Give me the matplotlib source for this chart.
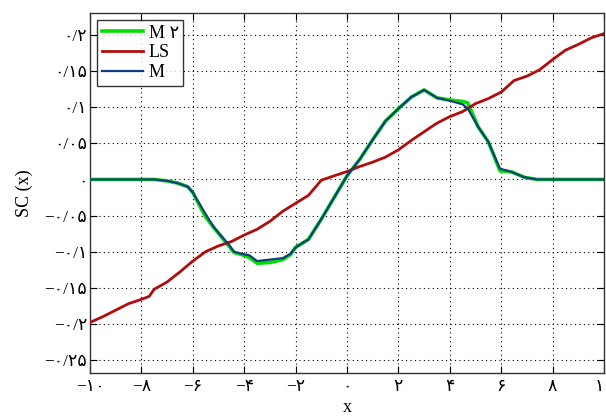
import matplotlib
matplotlib.use("Agg")
import matplotlib.pyplot as plt

# ---------------- data ----------------
x_ls = [-10, -9.5, -9, -8.5, -8, -7.7, -7.5, -7, -6.5, -6, -5.5, -5, -4.5, -4, -3.5, -3,
        -2.5, -2, -1.5, -1, -0.5, 0, 0.5, 1, 1.5, 2, 2.5, 3, 3.5, 4, 4.5, 5, 5.5, 6,
        6.5, 7, 7.5, 8, 8.5, 9, 9.5, 10]
y_ls = [-0.198, -0.19, -0.181, -0.172, -0.166, -0.162, -0.152, -0.142, -0.128, -0.113,
        -0.1, -0.092, -0.086, -0.077, -0.069, -0.058, -0.044, -0.033, -0.022, -0.001,
        0.005, 0.011, 0.018, 0.024, 0.031, 0.041, 0.054, 0.066, 0.078, 0.087, 0.094,
        0.105, 0.112, 0.121, 0.137, 0.143, 0.152, 0.166, 0.179, 0.187, 0.196, 0.202]

x_m = [-10, -8, -7.5, -7, -6.6, -6.2, -6.0, -5.8, -5.5, -5.2, -4.9, -4.6, -4.4, -4.1,
       -3.8, -3.5, -3.0, -2.5, -2.2, -2.0, -1.5, -1.0, -0.5, 0, 0.5, 1.0, 1.5, 2.0,
       2.5, 3.0, 3.5, 4.0, 4.5, 4.7, 5.1, 5.5, 5.95, 6.4, 6.9, 7.4, 8, 10]
y_m = [0, 0, 0, -0.002, -0.005, -0.01, -0.018, -0.03, -0.048, -0.065, -0.078, -0.09,
       -0.1, -0.103, -0.105, -0.113, -0.111, -0.109, -0.103, -0.094, -0.083, -0.055,
       -0.025, 0.005, 0.028, 0.055, 0.081, 0.098, 0.114, 0.124, 0.113, 0.109, 0.104,
       0.098, 0.073, 0.052, 0.015, 0.0105, 0.003, 0, 0, 0]
y_m2 = [0, 0, 0, -0.002, -0.005, -0.01, -0.018, -0.032, -0.052, -0.066, -0.079, -0.092,
        -0.101, -0.104, -0.108, -0.116, -0.115, -0.111, -0.104, -0.094, -0.083, -0.055,
        -0.025, 0.005, 0.028, 0.055, 0.081, 0.098, 0.114, 0.124, 0.113, 0.110, 0.108,
        0.106, 0.073, 0.052, 0.012, 0.0105, 0.003, 0, 0, 0]

x_ticks = [-10, -8, -6, -4, -2, 0, 2, 4, 6, 8, 10]
x_tick_labels = ["−۱۰", "−۸", "−۶", "−۴", "−۲", "۰", "۲", "۴", "۶", "۸", "۱۰"]
y_ticks = [-0.25, -0.2, -0.15, -0.1, -0.05, 0, 0.05, 0.1, 0.15, 0.2]
y_tick_labels = ["−۰/۲۵", "−۰/۲", "−۰/۱۵", "−۰/۱", "−۰/۰۵", "۰",
                 "۰/۰۵", "۰/۱", "۰/۱۵", "۰/۲"]
series_labels = ["M ۲", "LS", "M"]

# ---------------- plot ----------------
plt.rcParams['font.family'] = ['Liberation Serif', 'DejaVu Sans']
fam = ['Liberation Serif', 'DejaVu Sans']

fig = plt.figure(figsize=(6.06, 4.16), dpi=100)
ax = fig.add_axes([90/606, 1 - 373/416, (604-90)/606, (373-13)/416])

ax.plot(x_m, y_m2, color='#00e000', lw=2.6, label=series_labels[0], zorder=3)
ax.plot(x_ls, y_ls, color='#b00c0c', lw=2.0, label=series_labels[1], zorder=4)
ax.plot(x_m, y_m, color='#0a3f80', lw=1.6, label=series_labels[2], zorder=5)

ax.set_xlim(-10, 10)
ax.set_ylim(-0.268, 0.2305)
ax.set_xticks(x_ticks)
ax.set_xticklabels(x_tick_labels, fontsize=12.5, family=fam)
ax.set_yticks(y_ticks)
ax.set_yticklabels(y_tick_labels, fontsize=12.5, family=fam)
ax.tick_params(direction='in', length=5, width=0.8, top=True, right=True)
ax.tick_params(axis='y', pad=2)
ax.tick_params(axis='x', pad=4)

ax.grid(True, color='black', linestyle=(0, (1, 3)), linewidth=0.8)
for s in ax.spines.values():
    s.set_linewidth(1.0)
    s.set_color('#333333')

ax.set_xlabel('x', fontsize=13, labelpad=3)
ax.set_ylabel('SC (x)', fontsize=13, labelpad=8)

leg = ax.legend(loc='upper left', fontsize=13, frameon=True, fancybox=False,
                edgecolor='black', handlelength=2.3, handletextpad=0.3,
                borderpad=0.25, labelspacing=0.15, borderaxespad=0.4)
leg.get_frame().set_linewidth(1.0)

fig.savefig('out.png', dpi=100)
